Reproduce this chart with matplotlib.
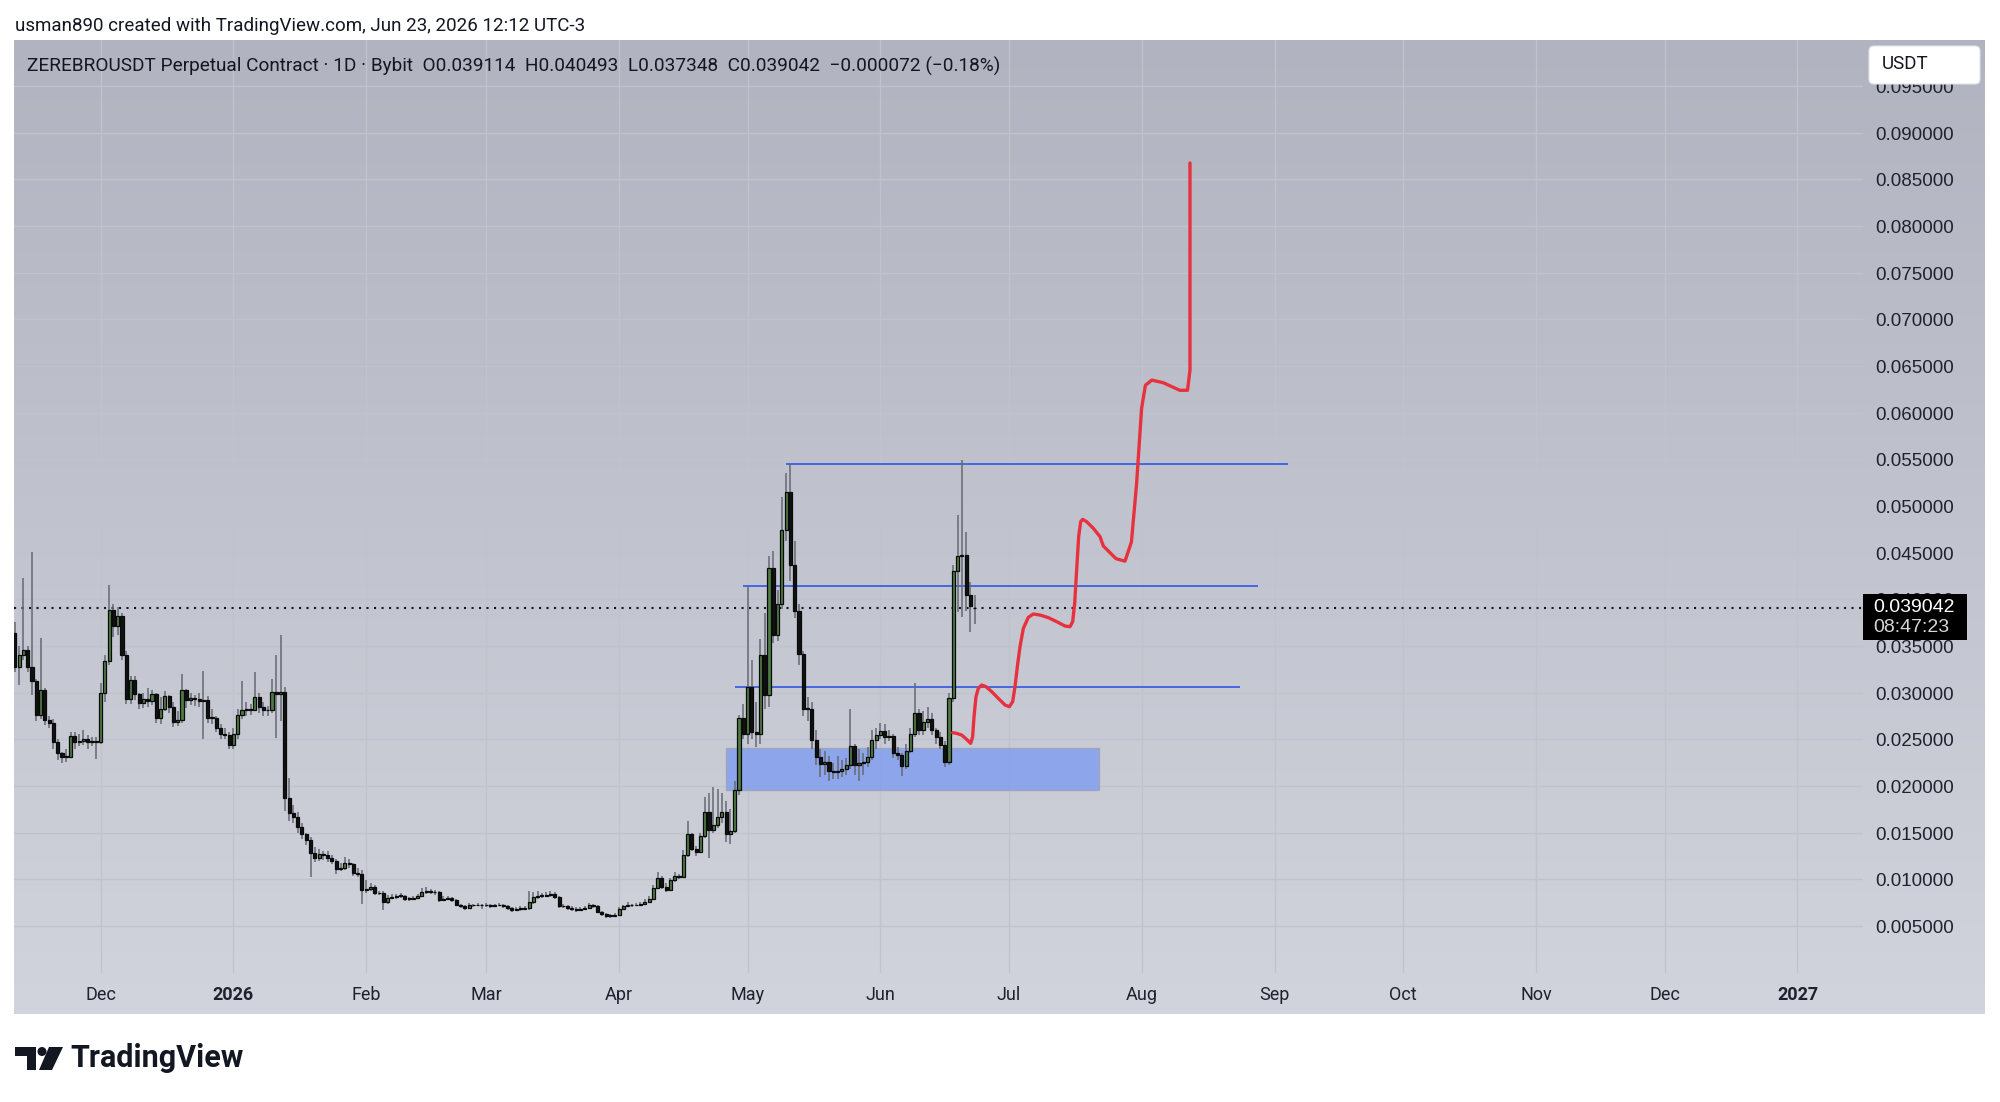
import matplotlib
matplotlib.use("Agg")
import matplotlib.pyplot as plt
import matplotlib.dates as mdates
import matplotlib.transforms as mtransforms
from matplotlib.patches import Rectangle, FancyBboxPatch, Polygon, Circle
import numpy as np
import pandas as pd

plt.rcParams['font.family'] = ['Roboto', 'DejaVu Sans']

# daily candles from 2025-11-11 to 2026-06-23 (open = previous close)
first_day = "2025-11-11"
first_open = 0.0364
last_open = 0.039114

closes = [
    # Nov
    0.0328, 0.0340, 0.0346, 0.0328, 0.0312, 0.0276, 0.0303, 0.0271, 0.0268, 0.0247,
    0.0235, 0.0231, 0.0231, 0.0254, 0.0247, 0.0248, 0.0250, 0.0247, 0.0248, 0.0247,
    # Dec
    0.0300, 0.0334, 0.0389, 0.0371, 0.0382, 0.0340, 0.0293, 0.0314, 0.0299, 0.0289,
    0.0293, 0.0291, 0.0299, 0.0273, 0.0283, 0.0296, 0.0285, 0.0269, 0.0271, 0.0303,
    0.0292, 0.0294, 0.0293, 0.0291, 0.0292, 0.0273, 0.0273, 0.0262, 0.0256, 0.0255, 0.0244,
    # Jan
    0.0256, 0.0276, 0.0281, 0.0282, 0.0281, 0.0295, 0.0285, 0.0281, 0.0281, 0.0301,
    0.0299, 0.0301, 0.0187, 0.0171, 0.0167, 0.0156, 0.0149, 0.0142, 0.0128, 0.0123,
    0.0127, 0.0126, 0.0123, 0.0120, 0.0111, 0.0112, 0.0118, 0.0116, 0.0107, 0.0106, 0.0089,
    # Feb
    0.0090, 0.0092, 0.0085, 0.0085, 0.0076, 0.0080, 0.0081, 0.0082, 0.0082, 0.0079,
    0.0079, 0.0080, 0.0082, 0.0086, 0.0087, 0.0086, 0.0086, 0.0078, 0.0079, 0.0080,
    0.0078, 0.0073, 0.0071, 0.0069, 0.0073, 0.0072, 0.0073, 0.0072,
    # Mar
    0.0073, 0.0071, 0.0072, 0.0073, 0.0071, 0.0069, 0.0067, 0.0068, 0.0068, 0.0069,
    0.0076, 0.0081, 0.0082, 0.0082, 0.0083, 0.0084, 0.0081, 0.0071, 0.0071, 0.0069,
    0.0068, 0.0067, 0.0068, 0.0069, 0.0072, 0.0071, 0.0065, 0.0063, 0.0061, 0.0061, 0.0062,
    # Apr
    0.0068, 0.0071, 0.0072, 0.0072, 0.0073, 0.0074, 0.0076, 0.0079, 0.0091, 0.0101,
    0.0092, 0.0089, 0.0099, 0.0104, 0.0103, 0.0126, 0.0149, 0.0133, 0.0129, 0.0146,
    0.0172, 0.0153, 0.0158, 0.0167, 0.0172, 0.0149, 0.0152, 0.0196, 0.0273, 0.0256,
    # May
    0.0306, 0.0258, 0.0256, 0.0340, 0.0298, 0.0434, 0.0362, 0.0395, 0.0474, 0.0515,
    0.0437, 0.0387, 0.0341, 0.0283, 0.0283, 0.0249, 0.0231, 0.0224, 0.0226, 0.0216,
    0.0215, 0.0216, 0.0218, 0.0223, 0.0243, 0.0223, 0.0225, 0.0226, 0.0231, 0.0249, 0.0255,
    # Jun
    0.0259, 0.0253, 0.0254, 0.0235, 0.0233, 0.0221, 0.0238, 0.0256, 0.0278, 0.0260,
    0.0269, 0.0272, 0.0260, 0.0253, 0.0244, 0.0226, 0.0294, 0.0430, 0.0446, 0.0448,
    0.0405, 0.0393, 0.039042,
]

highs = [
    0.0376, 0.0350, 0.0423, 0.0350, 0.0451, 0.0315, 0.0359, 0.0305, 0.0275, 0.0272,
    0.0250, 0.0236, 0.0240, 0.0258, 0.0258, 0.0256, 0.0260, 0.0255, 0.0253, 0.0252,
    0.0310, 0.0340, 0.0415, 0.0395, 0.0392, 0.0385, 0.0345, 0.0318, 0.0318, 0.0300,
    0.0300, 0.0305, 0.0303, 0.0300, 0.0295, 0.0302, 0.0298, 0.0290, 0.0280, 0.0320,
    0.0304, 0.0300, 0.0298, 0.0300, 0.0323, 0.0296, 0.0282, 0.0275, 0.0266, 0.0262, 0.0258,
    0.0262, 0.0282, 0.0312, 0.0290, 0.0288, 0.0322, 0.0300, 0.0290, 0.0286, 0.0315,
    0.0340, 0.0362, 0.0306, 0.0209, 0.0180, 0.0172, 0.0160, 0.0150, 0.0145, 0.0135,
    0.0133, 0.0130, 0.0130, 0.0126, 0.0122, 0.0117, 0.0124, 0.0122, 0.0118, 0.0112, 0.0110,
    0.0099, 0.0096, 0.0094, 0.0088, 0.0087, 0.0083, 0.0084, 0.0084, 0.0085, 0.0083,
    0.0081, 0.0082, 0.0084, 0.0091, 0.0092, 0.0090, 0.0089, 0.0087, 0.0082, 0.0082,
    0.0081, 0.0079, 0.0074, 0.0072, 0.0075, 0.0074, 0.0075, 0.0074,
    0.0075, 0.0074, 0.0074, 0.0075, 0.0074, 0.0073, 0.0070, 0.0070, 0.0071, 0.0071,
    0.0088, 0.0086, 0.0087, 0.0085, 0.0086, 0.0087, 0.0086, 0.0082, 0.0074, 0.0072,
    0.0071, 0.0070, 0.0070, 0.0071, 0.0075, 0.0074, 0.0072, 0.0066, 0.0064, 0.0063, 0.0064,
    0.0070, 0.0073, 0.0076, 0.0074, 0.0075, 0.0076, 0.0079, 0.0082, 0.0094, 0.0108,
    0.0104, 0.0096, 0.0101, 0.0108, 0.0106, 0.0131, 0.0162, 0.0150, 0.0136, 0.0150,
    0.0188, 0.0192, 0.0199, 0.0197, 0.0192, 0.0184, 0.0175, 0.0205, 0.0276, 0.0288,
    0.0413, 0.0335, 0.0290, 0.0358, 0.0385, 0.0446, 0.0452, 0.0410, 0.0510, 0.0535,
    0.0545, 0.0462, 0.0395, 0.0345, 0.0295, 0.0290, 0.0260, 0.0240, 0.0238, 0.0232,
    0.0225, 0.0232, 0.0228, 0.0230, 0.0283, 0.0245, 0.0240, 0.0235, 0.0242, 0.0260, 0.0262,
    0.0268, 0.0266, 0.0260, 0.0256, 0.0242, 0.0235, 0.0245, 0.0262, 0.0310, 0.0282,
    0.0280, 0.0285, 0.0278, 0.0262, 0.0258, 0.0248, 0.0300, 0.0437, 0.0490, 0.0549,
    0.0472, 0.0419, 0.040493,
]

lows = [
    0.0322, 0.0308, 0.0335, 0.0322, 0.0297, 0.0270, 0.0272, 0.0265, 0.0262, 0.0240,
    0.0228, 0.0225, 0.0226, 0.0230, 0.0240, 0.0243, 0.0244, 0.0240, 0.0243, 0.0229,
    0.0245, 0.0290, 0.0330, 0.0360, 0.0362, 0.0335, 0.0288, 0.0288, 0.0292, 0.0283,
    0.0284, 0.0285, 0.0287, 0.0268, 0.0266, 0.0280, 0.0278, 0.0263, 0.0264, 0.0268,
    0.0284, 0.0287, 0.0286, 0.0285, 0.0250, 0.0268, 0.0266, 0.0258, 0.0250, 0.0250, 0.0240,
    0.0240, 0.0250, 0.0272, 0.0275, 0.0276, 0.0280, 0.0278, 0.0275, 0.0275, 0.0278,
    0.0251, 0.0270, 0.0173, 0.0162, 0.0160, 0.0150, 0.0143, 0.0137, 0.0103, 0.0119,
    0.0120, 0.0121, 0.0119, 0.0116, 0.0106, 0.0109, 0.0110, 0.0112, 0.0104, 0.0103, 0.0074,
    0.0085, 0.0087, 0.0083, 0.0083, 0.0067, 0.0074, 0.0079, 0.0079, 0.0080, 0.0077,
    0.0077, 0.0078, 0.0079, 0.0081, 0.0084, 0.0084, 0.0083, 0.0076, 0.0077, 0.0078,
    0.0076, 0.0071, 0.0069, 0.0067, 0.0068, 0.0070, 0.0071, 0.0068,
    0.0070, 0.0069, 0.0070, 0.0071, 0.0069, 0.0067, 0.0065, 0.0066, 0.0066, 0.0067,
    0.0067, 0.0074, 0.0079, 0.0080, 0.0081, 0.0081, 0.0079, 0.0069, 0.0069, 0.0067,
    0.0066, 0.0065, 0.0066, 0.0067, 0.0068, 0.0069, 0.0064, 0.0061, 0.0059, 0.0059, 0.0060,
    0.0061, 0.0067, 0.0070, 0.0070, 0.0071, 0.0072, 0.0073, 0.0075, 0.0078, 0.0090,
    0.0090, 0.0086, 0.0087, 0.0097, 0.0100, 0.0102, 0.0124, 0.0130, 0.0125, 0.0128,
    0.0144, 0.0123, 0.0150, 0.0155, 0.0160, 0.0140, 0.0138, 0.0150, 0.0190, 0.0250,
    0.0245, 0.0250, 0.0242, 0.0245, 0.0282, 0.0285, 0.0353, 0.0355, 0.0390, 0.0462,
    0.0420, 0.0380, 0.0330, 0.0275, 0.0270, 0.0240, 0.0222, 0.0210, 0.0212, 0.0205,
    0.0208, 0.0207, 0.0210, 0.0212, 0.0218, 0.0212, 0.0205, 0.0212, 0.0220, 0.0228, 0.0240,
    0.0250, 0.0245, 0.0248, 0.0230, 0.0228, 0.0211, 0.0218, 0.0235, 0.0252, 0.0255,
    0.0255, 0.0262, 0.0255, 0.0245, 0.0240, 0.0220, 0.0222, 0.0290, 0.0386, 0.0381,
    0.0388, 0.0365, 0.037348,
]

# drawings
level_prices = [0.0545, 0.0414, 0.0306]
level_starts = ["2026-05-10", "2026-04-30", "2026-04-28"]
level_ends = ["2026-09-04", "2026-08-28", "2026-08-24"]
zone_start, zone_end = "2026-04-26", "2026-07-22"
zone_low, zone_high = 0.0196, 0.0241

# projected path: days after 2026-01-01, price
red_days = [167.86, 168.79, 169.96, 171.12, 172.06, 172.52, 172.84, 173.30, 173.85, 174.62,
            175.64, 176.96, 178.51, 180.07, 181.08, 181.86, 182.40, 182.95, 183.57, 184.35,
            185.51, 186.68, 188.24, 190.18, 192.13, 194.07, 195.24, 195.86, 196.33, 196.79,
            197.26, 197.73, 198.19, 199.13, 200.68, 202.24, 203.01, 205.97, 208.07, 209.57,
            210.76, 211.95, 212.84, 214.33, 217.01, 220.86, 222.66, 223.24, 223.24]
red_prices = [0.02571, 0.02564, 0.02546, 0.02500, 0.02457, 0.02529, 0.02743, 0.02957, 0.03047, 0.03082,
              0.03064, 0.03011, 0.02939, 0.02868, 0.02850, 0.02904, 0.03064, 0.03279, 0.03493, 0.03689,
              0.03807, 0.03843, 0.03832, 0.03804, 0.03761, 0.03714, 0.03707, 0.03761, 0.03957, 0.04314,
              0.04672, 0.04832, 0.04857, 0.04832, 0.04761, 0.04672, 0.04572, 0.04436, 0.04409, 0.04614,
              0.05228, 0.06048, 0.06294, 0.06349, 0.06321, 0.06240, 0.06240, 0.06457, 0.08675]

price_ticks = [0.005 * k for k in range(1, 20)]
last_price = 0.039042

W, H = 2000, 1102
fig = plt.figure(figsize=(20, 11.02), dpi=100)

# panel background (gradient)
bg = fig.add_axes([14 / W, 1 - 1014 / H, (1985 - 14) / W, (1014 - 40) / H], zorder=0)
top_c = np.array([177, 180, 192]) / 255
bot_c = np.array([209, 212, 220]) / 255
t = np.linspace(0, 1, 256)[:, None]
grad = (top_c[None, :] * (1 - t) + bot_c[None, :] * t)[:, None, :]
bg.imshow(grad, aspect='auto', extent=[0, 1, 0, 1])
bg.axis('off')

ax = fig.add_axes([14 / W, 1 - 973 / H, (1863 - 14) / W, (973 - 40) / H], zorder=1)
ax.patch.set_alpha(0)
for s in ax.spines.values():
    s.set_visible(False)
ax.set_xticks([])
ax.set_yticks([])

day0 = mdates.date2num(pd.Timestamp("2026-01-01"))
ax.set_xlim(day0 - 51.2, day0 + 380.3)
ax.set_ylim(-0.0000359, 0.099932)

grid_c = '#c0c3cc'
month_starts = pd.date_range("2025-12-01", "2027-01-01", freq="MS")
for m in month_starts:
    ax.axvline(mdates.date2num(m), color=grid_c, lw=1, zorder=0.5)
for p in price_ticks:
    ax.axhline(p, color=grid_c, lw=1, zorder=0.5)

# zone and levels
zs, ze = mdates.date2num(pd.Timestamp(zone_start)), mdates.date2num(pd.Timestamp(zone_end))
ax.add_patch(Rectangle((zs, zone_low), ze - zs, zone_high - zone_low,
                       facecolor='#7f9cf0', alpha=0.8, edgecolor='#9ba2b4', lw=1, zorder=1))
for p, a, b in zip(level_prices, level_starts, level_ends):
    ax.hlines(p, mdates.date2num(pd.Timestamp(a)), mdates.date2num(pd.Timestamp(b)),
              color='#3c5fe6', lw=1.3, zorder=2)

ax.axhline(last_price, color='#131722', lw=1.5, ls=(0, (1, 2.6)), zorder=2.5)

# candles
dates = pd.date_range(first_day, periods=len(closes), freq="D")
x = mdates.date2num(dates)
opens = [first_open] + closes[:-1]
opens[-1] = last_open
o = np.array(opens)
c = np.array(closes)
up = c >= o
ax.vlines(x, lows, highs, color='#666973', lw=1.1, zorder=3)
body_bot = np.minimum(o, c)
body_h = np.maximum(np.abs(c - o), 0.00008)
ax.bar(x, body_h, bottom=body_bot, width=0.72,
       color=np.where(up, '#4d7c43', '#111111'), edgecolor='#0a0a0a', linewidth=0.9, zorder=4)

ax.plot(day0 + np.array(red_days), red_prices, color='#e8313f', lw=2.4,
        solid_joinstyle='round', solid_capstyle='round', zorder=5)

# price labels (nudged down a few pixels to sit on the grid lines)
lab_tr = mtransforms.offset_copy(ax.get_yaxis_transform(), fig=fig, x=0, y=-2.5, units='dots')
for p in price_ticks:
    ax.text(1.0065, p, f"{p:.6f}", transform=lab_tr, ha='left', va='center',
            fontsize=13.5, color='#1e222d', family=['Liberation Sans', 'DejaVu Sans'], clip_on=False)

# month labels
for m in month_starts:
    lab = str(m.year) if m.month == 1 else m.strftime("%b")
    ax.text(mdates.date2num(m), -0.0236, lab, transform=ax.get_xaxis_transform(), ha='center',
            va='center', fontsize=13, color='#1e222d',
            fontweight='bold' if m.month == 1 else 'normal', clip_on=False)

# overlay in pixel coordinates
ov = fig.add_axes([0, 0, 1, 1], zorder=10)
ov.set_xlim(0, W)
ov.set_ylim(H, 0)
ov.axis('off')
ov.patch.set_alpha(0)

ov.text(15, 26, "usman890 created with TradingView.com, Jun 23, 2026 12:12 UTC-3",
        fontsize=13.5, color='#131722', va='center', ha='left')
ov.text(27, 66, "ZEREBROUSDT Perpetual Contract · 1D · Bybit  O0.039114  H0.040493  L0.037348  "
        "C0.039042  −0.000072 (−0.18%)", fontsize=13.7, color='#131722', va='center', ha='left')

ov.add_patch(FancyBboxPatch((1869, 46), 111, 38, boxstyle="round,pad=0,rounding_size=5",
                            facecolor='white', edgecolor='#e0e3eb', lw=0.8))
ov.text(1882, 64, "USDT", fontsize=13.5, color='#131722', va='center', ha='left')

ov.add_patch(Rectangle((1863, 594), 104, 46, facecolor='black', edgecolor='none'))
ov.text(1873, 607, "0.039042", fontsize=14, color='white', va='center', ha='left',
        family=['Liberation Sans', 'DejaVu Sans'])
ov.text(1873, 627, "08:47:23", fontsize=14, color='#d6d6d6', va='center', ha='left',
        family=['Liberation Sans', 'DejaVu Sans'])

# TradingView logo
ov.add_patch(Polygon([(15, 1047), (36, 1047), (36, 1070), (27, 1070), (27, 1056), (15, 1056)],
                     closed=True, facecolor='#131722', edgecolor='none'))
ov.add_patch(Circle((42, 1051.5), 4.5, facecolor='#131722', edgecolor='none'))
ov.add_patch(Polygon([(49, 1047), (63, 1047), (52, 1070), (39, 1070)],
                     closed=True, facecolor='#131722', edgecolor='none'))
ov.text(70, 1058, "TradingView", fontsize=22, fontweight='bold', color='#131722',
        va='center', ha='left')

fig.savefig("out.png", dpi=100, facecolor='white')
